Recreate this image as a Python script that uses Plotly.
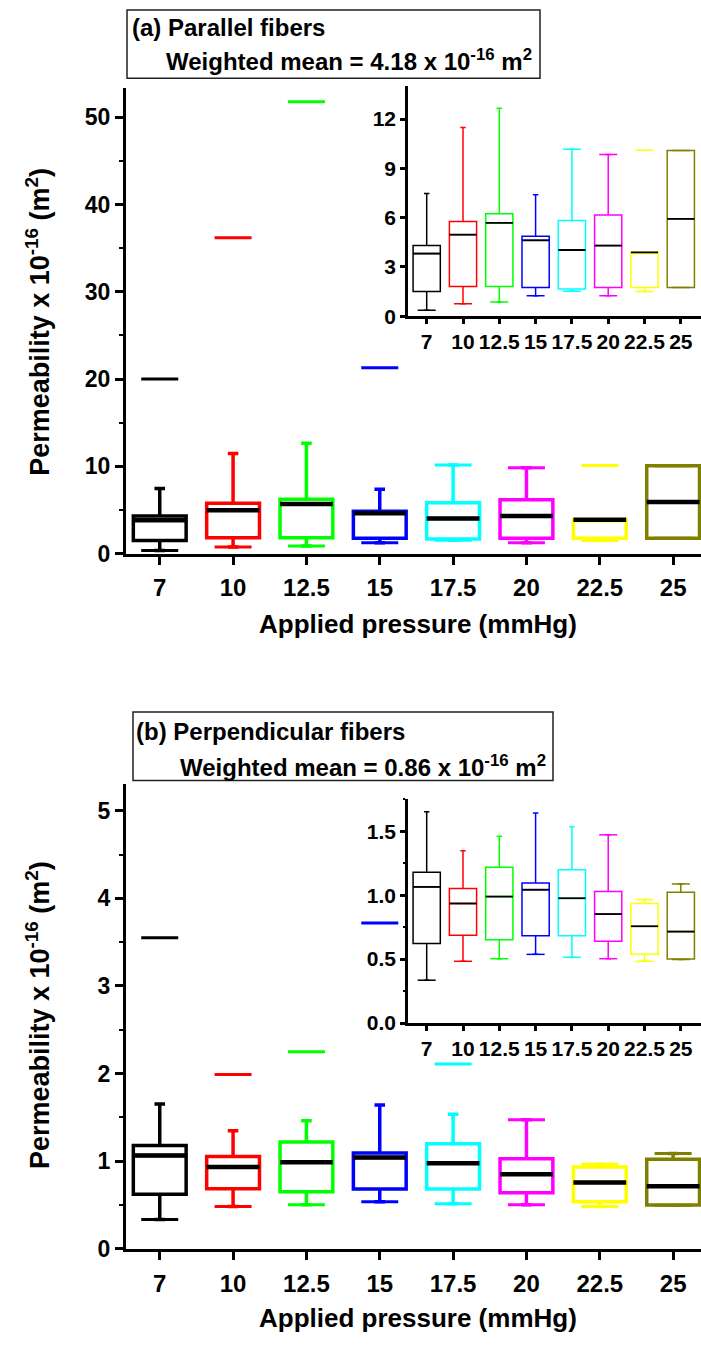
import plotly.graph_objects as go

W, H = 701, 1347
FONT = "Liberation Sans, Arial, Helvetica, sans-serif"

# ---------------- data ----------------
categories = ["7", "10", "12.5", "15", "17.5", "20", "22.5", "25"]
colors = ["#000000", "#FF0000", "#00FF00", "#0000FF", "#00FFFF", "#FF00FF", "#FFFF00", "#808000"]

# (a) parallel fibers
par_q1 = [1.50, 1.81, 1.81, 1.75, 1.66, 1.75, 1.75, 1.75]
par_med = [3.81, 4.96, 5.68, 4.62, 4.03, 4.30, 3.88, 5.92]
par_q3 = [4.30, 5.76, 6.24, 4.86, 5.82, 6.16, 3.88, 10.08]
par_lo = [0.36, 0.76, 0.86, 1.24, 1.52, 1.24, 1.50, 1.75]
par_hi = [7.47, 11.48, 12.65, 7.39, 10.16, 9.84, 3.88, 10.08]
par_min = [0.36, 0.76, 0.86, 1.24, 1.52, 1.24, 1.50, 1.75]
par_max = [20.0, 36.2, 51.8, 21.3, 10.16, 9.84, 10.10, 10.08]

# (b) perpendicular fibers
perp_q1 = [0.622, 0.687, 0.651, 0.682, 0.682, 0.640, 0.537, 0.501]
perp_med = [1.065, 0.935, 0.989, 1.043, 0.976, 0.852, 0.757, 0.715]
perp_q3 = [1.180, 1.053, 1.219, 1.095, 1.198, 1.028, 0.935, 1.022]
perp_lo = [0.335, 0.483, 0.503, 0.537, 0.514, 0.503, 0.483, 0.497]
perp_hi = [1.652, 1.348, 1.461, 1.642, 1.536, 1.472, 0.966, 1.088]
perp_min = [0.335, 0.483, 0.503, 0.537, 0.514, 0.503, 0.483, 0.497]
perp_max = [3.55, 1.99, 2.25, 3.72, 2.11, 1.472, 0.966, 1.088]

# ---------------- helpers ----------------
def fx(px):
    return px / W


def fy(py):
    return 1 - py / H


fig = go.Figure()

MAIN_XRANGE = [-0.46, 7.38]
INSET_XRANGE = [-0.515, 7.556]
MAIN_XDOM = [fx(126), 1.0]
INSET_XDOM = [fx(408), 1.0]
LINE_EW = 1.4  # plotly's line-ew symbol is 1.4x its nominal size


def add_panel(xa, ya, q1, med, q3, lo, hi, mn, mx, xdom, xrange, boxw, lw, medlw, dash, dashlw, wwidth):
    cat_px = (xdom[1] - xdom[0]) * W / (xrange[1] - xrange[0])
    box_px = boxw * cat_px
    for i, c in enumerate(categories):
        fig.add_trace(go.Box(
            x=[c], q1=[q1[i]], median=[med[i]], q3=[q3[i]],
            lowerfence=[lo[i]], upperfence=[hi[i]],
            width=boxw, whiskerwidth=wwidth, boxpoints=False,
            line=dict(color=colors[i], width=lw),
            fillcolor="rgba(255,255,255,0)",
            xaxis=xa, yaxis=ya, showlegend=False, hoverinfo="skip"))
    # max / min markers (dashes)
    for vals in (mx, mn):
        fig.add_trace(go.Scatter(
            x=categories, y=vals, mode="markers",
            marker=dict(symbol="line-ew", size=dash / LINE_EW,
                        line=dict(color=colors, width=dashlw)),
            xaxis=xa, yaxis=ya, showlegend=False, hoverinfo="skip"))
    # black median lines
    fig.add_trace(go.Scatter(
        x=categories, y=med, mode="markers",
        marker=dict(symbol="line-ew", size=box_px / LINE_EW,
                    line=dict(color="black", width=medlw)),
        xaxis=xa, yaxis=ya, showlegend=False, hoverinfo="skip"))


# main (a)
add_panel("x", "y", par_q1, par_med, par_q3, par_lo, par_hi, par_min, par_max,
          MAIN_XDOM, MAIN_XRANGE, 0.72, 3.5, 4.5, 37, 3, 0.2)
# inset (a)
add_panel("x2", "y2", par_q1, par_med, par_q3, par_lo, par_hi, par_min, par_max,
          INSET_XDOM, INSET_XRANGE, 0.75, 1.5, 1.8, 18, 1.5, 0.2)
# main (b)
add_panel("x3", "y3", perp_q1, perp_med, perp_q3, perp_lo, perp_hi, perp_min, perp_max,
          MAIN_XDOM, MAIN_XRANGE, 0.72, 3.5, 4.5, 37, 3, 0.2)
# inset (b)
add_panel("x4", "y4", perp_q1, perp_med, perp_q3, perp_lo, perp_hi, perp_min, perp_max,
          INSET_XDOM, INSET_XRANGE, 0.75, 1.5, 1.8, 18, 1.5, 0.2)


def xaxis_style(dom, rng, anchor, size, lw, tlen, standoff=0):
    return dict(domain=dom, range=rng, anchor=anchor, type="category",
                categoryorder="array", categoryarray=categories,
                showline=True, linecolor="black", linewidth=lw,
                ticks="outside", ticklen=tlen, tickwidth=lw, tickcolor="black",
                ticklabelstandoff=standoff,
                tickfont=dict(family=FONT, size=size, color="black", weight="bold"),
                showgrid=False, zeroline=False, fixedrange=True)


def yaxis_style(dom, rng, anchor, dtick, minor, size, lw, tlen, fmt=None):
    d = dict(domain=dom, range=rng, anchor=anchor,
             showline=True, linecolor="black", linewidth=lw,
             ticks="outside", ticklen=tlen, tickwidth=lw, tickcolor="black",
             tick0=0, dtick=dtick,
             tickfont=dict(family=FONT, size=size, color="black", weight="bold"),
             showgrid=False, zeroline=False, fixedrange=True)
    if minor:
        d["minor"] = dict(ticks="outside", ticklen=tlen / 2, tickwidth=lw * 0.7,
                          tickcolor="black", dtick=minor, tick0=0, showgrid=False)
    if fmt:
        d["tickformat"] = fmt
    return d


fig.update_layout(
    width=W, height=H, margin=dict(l=0, r=0, t=0, b=0),
    paper_bgcolor="white", plot_bgcolor="white",
    boxmode="overlay", showlegend=False,
    xaxis=xaxis_style(MAIN_XDOM, MAIN_XRANGE, "y", 24, 3, 8, 3),
    yaxis=yaxis_style([fy(559), fy(89)], [0, 53.35], "x", 10, 5, 23, 3, 8),
    xaxis2=xaxis_style(INSET_XDOM, INSET_XRANGE, "y2", 21, 2.5, 5),
    yaxis2=yaxis_style([fy(319.3), fy(87)], [0, 14.0], "x2", 3, None, 21, 2.5, 5),
    xaxis3=xaxis_style(MAIN_XDOM, MAIN_XRANGE, "y3", 24, 3, 8, 3),
    yaxis3=yaxis_style([fy(1261), fy(791.7)], [0, 5.305], "x3", 1, 0.5, 23, 3, 8),
    xaxis4=xaxis_style(INSET_XDOM, INSET_XRANGE, "y4", 21, 2.5, 5),
    yaxis4=yaxis_style([fy(1033), fy(806.7)], [0, 1.753], "x4", 0.5, 0.25, 21, 2.5, 5, ".1f"),
)

bold = lambda s: dict(family=FONT, size=s, color="black", weight="bold")

annotations = [
    # axis titles
    dict(text="Applied pressure (mmHg)", x=fx(418), y=fy(630), font=bold(26)),
    dict(text="Applied pressure (mmHg)", x=fx(418), y=fy(1331), font=bold(26)),
    dict(text="Permeability x 10<sup>-16</sup> (m<sup>2</sup>)", x=fx(38), y=fy(325),
         textangle=-90, font=bold(27)),
    dict(text="Permeability x 10<sup>-16</sup> (m<sup>2</sup>)", x=fx(38), y=fy(1025),
         textangle=-90, font=bold(27)),
    # title boxes
    dict(text="(a) Parallel fibers", x=fx(130), y=fy(28), xanchor="left", font=bold(24)),
    dict(text="Weighted mean = 4.18 x 10<sup>-16</sup> m<sup>2</sup>", x=fx(164), y=fy(61),
         xanchor="left", font=bold(24)),
    dict(text="(b) Perpendicular fibers", x=fx(134), y=fy(739), xanchor="left", font=bold(24)),
    dict(text="Weighted mean = 0.86 x 10<sup>-16</sup> m<sup>2</sup>", x=fx(178), y=fy(773),
         xanchor="left", font=bold(24)),
]
for a in annotations:
    a.update(xref="paper", yref="paper", showarrow=False)
    a.setdefault("xanchor", "center")
    a.setdefault("yanchor", "middle")
fig.update_layout(annotations=annotations)

fig.update_layout(shapes=[
    dict(type="rect", xref="paper", yref="paper", x0=fx(127), x1=fx(540), y0=fy(79), y1=fy(10),
         line=dict(color="#222222", width=1.5), fillcolor="rgba(0,0,0,0)"),
    dict(type="rect", xref="paper", yref="paper", x0=fx(133), x1=fx(553), y0=fy(788), y1=fy(719),
         line=dict(color="#222222", width=1.5), fillcolor="rgba(0,0,0,0)"),
])

fig.write_html("out.html")
